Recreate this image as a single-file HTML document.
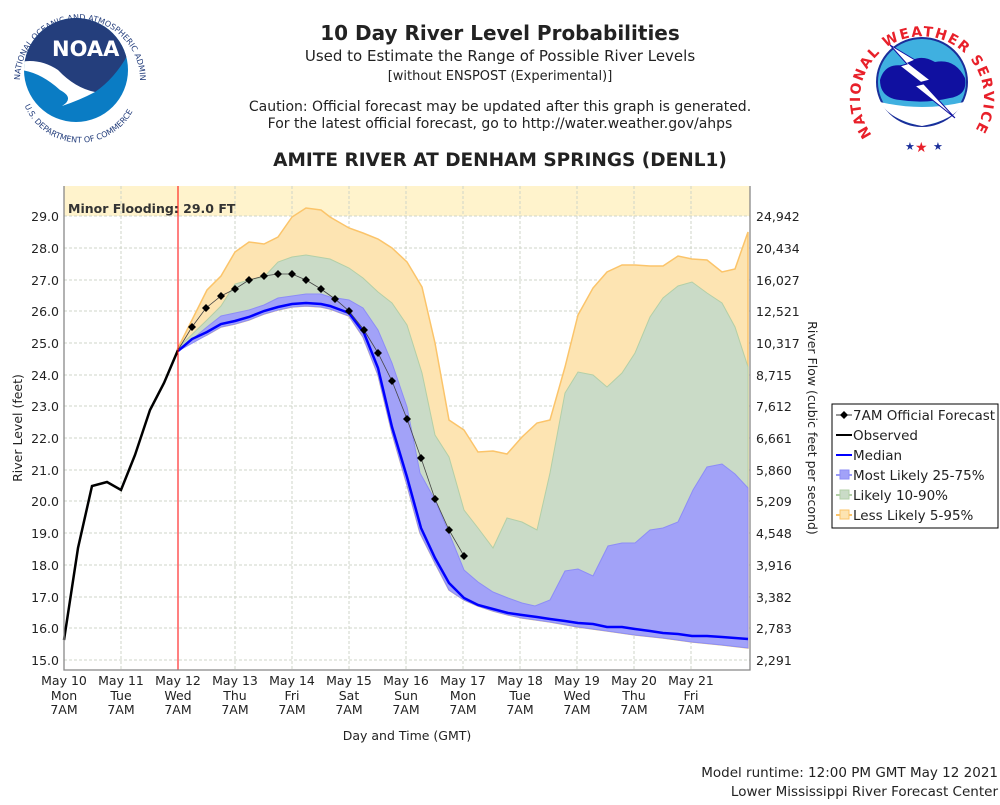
<!DOCTYPE html>
<html><head><meta charset="utf-8"><style>
body{margin:0;background:#fff;}
svg text{font-family:"DejaVu Sans","Liberation Sans",sans-serif;}
</style></head><body>
<svg width="1000" height="800" xmlns="http://www.w3.org/2000/svg">
<rect width="1000" height="800" fill="#fff"/>
<defs>
<path id="noaaRing" d="M 20,80 A 60,60 0 0 1 140,80"/>
<path id="noaaRing2" d="M 22,98 A 60,60 0 0 0 138,98"/>
<path id="nwsRing" d="M 872,135 A 62,62 0 1 1 972,135"/>
<clipPath id="nc"><circle cx="76" cy="70" r="52"/></clipPath>
</defs>
<g clip-path="url(#nc)">
<rect x="20" y="15" width="115" height="110" fill="#0a7cc4"/>
<path d="M20,15 H135 V40 Q120,75 95,92 Q70,90 55,72 Q40,60 20,62 Z" fill="#243e7c"/>
<path d="M20,62 Q40,58 58,70 Q75,88 95,92 Q80,100 62,106 Q75,98 60,90 Q40,72 20,70 Z" fill="#fff"/>
</g>
<text x="52" y="56" font-size="21" font-weight="bold" fill="#fff" font-family="Liberation Sans,sans-serif">NOAA</text>
<text font-size="8" fill="#243e7c"><textPath href="#noaaRing">NATIONAL OCEANIC AND ATMOSPHERIC ADMINISTRATION</textPath></text>
<text font-size="8" fill="#243e7c"><textPath href="#noaaRing2" startOffset="8">U.S. DEPARTMENT OF COMMERCE</textPath></text>
<ellipse cx="922" cy="82" rx="45" ry="44" fill="#3fb0e0" stroke="#1a2e9a" stroke-width="2"/>
<path d="M880,80 Q885,62 905,66 Q918,52 935,62 Q955,58 965,78 Q968,95 950,98 Q925,104 900,100 Q880,98 880,80Z" fill="#1010a0"/>
<path d="M880,102 Q922,112 964,102 Q955,120 922,126 Q890,120 880,102Z" fill="#fff"/>
<path d="M890,45 L915,60 L908,63 L930,80 L922,82 L955,118 L915,86 L923,84 L900,66 L907,64 Z" fill="#fff" stroke="#1010a0" stroke-width="1"/>
<text font-size="14" font-weight="bold" fill="#e8202a" font-family="Liberation Sans,sans-serif" letter-spacing="1.5"><textPath href="#nwsRing">NATIONAL WEATHER SERVICE</textPath></text>
<text x="905" y="150" font-size="11" fill="#1a2e9a">★</text>
<text x="915" y="152" font-size="14" fill="#e8202a">★</text>
<text x="933" y="150" font-size="11" fill="#1a2e9a">★</text>
<text x="500" y="40" font-size="20" font-weight="bold" text-anchor="middle" fill="#222">10 Day River Level Probabilities</text>
<text x="500" y="61" font-size="15" text-anchor="middle" fill="#222">Used to Estimate the Range of Possible River Levels</text>
<text x="500" y="80" font-size="13" text-anchor="middle" fill="#222">[without ENSPOST (Experimental)]</text>
<text x="500" y="111" font-size="14" text-anchor="middle" fill="#222">Caution: Official forecast may be updated after this graph is generated.</text>
<text x="500" y="128" font-size="14" text-anchor="middle" fill="#222">For the latest official forecast, go to http://water.weather.gov/ahps</text>
<text x="500" y="166" font-size="18.5" font-weight="bold" text-anchor="middle" fill="#222">AMITE RIVER AT DENHAM SPRINGS (DENL1)</text>
<rect x="64" y="186" width="686" height="484" fill="#fff"/>
<rect x="64" y="186" width="686" height="30" fill="#fff3cc"/>
<g stroke="#cfd5c8" stroke-dasharray="3,2" stroke-width="1">
<line x1="64" x2="750" y1="216" y2="216"/><line x1="64" x2="750" y1="248" y2="248"/><line x1="64" x2="750" y1="280" y2="280"/><line x1="64" x2="750" y1="311" y2="311"/><line x1="64" x2="750" y1="343" y2="343"/><line x1="64" x2="750" y1="375" y2="375"/><line x1="64" x2="750" y1="406" y2="406"/><line x1="64" x2="750" y1="438" y2="438"/><line x1="64" x2="750" y1="470" y2="470"/><line x1="64" x2="750" y1="501" y2="501"/><line x1="64" x2="750" y1="533" y2="533"/><line x1="64" x2="750" y1="565" y2="565"/><line x1="64" x2="750" y1="597" y2="597"/><line x1="64" x2="750" y1="628" y2="628"/><line x1="64" x2="750" y1="660" y2="660"/>
<line y1="186" y2="670" x1="121" x2="121"/><line y1="186" y2="670" x1="235" x2="235"/><line y1="186" y2="670" x1="292" x2="292"/><line y1="186" y2="670" x1="349" x2="349"/><line y1="186" y2="670" x1="406" x2="406"/><line y1="186" y2="670" x1="463" x2="463"/><line y1="186" y2="670" x1="520" x2="520"/><line y1="186" y2="670" x1="577" x2="577"/><line y1="186" y2="670" x1="634" x2="634"/><line y1="186" y2="670" x1="691" x2="691"/>
</g>
<polygon fill="#fde4b2" stroke="#fbc46a" stroke-width="1.5" points="178,348 207,290 221,276 235,252 249,242 264,244 278,237 292,217 306,208 321,210 330,217 349,228 363,233 378,239 392,248 407,262 422,287 435,343 449,420 464,430 478,452 493,451 507,454 522,437 537,423 550,420 565,367 578,315 593,288 607,272 622,265 635,265 650,266 663,266 678,256 692,259 707,260 722,272 735,269 748,232 748,648 722,645 692,642 663,638 635,635 607,631 578,627 550,622 522,618 508,615 493,611 478,606 464,600 449,590 435,563 420,533 407,485 392,433 378,375 363,337 349,316 330,309 321,307 306,306 292,307 278,310 264,314 249,320 235,324 221,327 207,335"/>
<polygon fill="#cadbc7" stroke="#b3cfa7" stroke-width="1" points="178,348 207,320 221,306 235,284 249,280 264,277 278,262 292,257 306,255 330,259 349,268 363,278 378,292 392,303 407,325 422,373 435,435 449,457 464,510 478,528 493,548 507,518 522,522 537,530 550,473 565,393 578,372 593,375 607,387 622,373 635,353 650,317 663,298 678,286 692,282 707,293 722,303 735,327 748,367 748,648 722,645 692,642 663,638 635,635 607,631 578,627 550,622 522,618 508,615 493,611 478,606 464,600 449,590 435,563 420,533 407,485 392,433 378,375 363,337 349,316 330,309 321,307 306,306 292,307 278,310 264,314 249,320 235,324 221,327 207,335"/>
<polygon fill="#a2a2f8" stroke="#8d8df6" stroke-width="1" points="178,351 207,327 221,316 235,313 249,310 264,305 278,298 292,296 306,294 321,294 330,297 349,300 363,308 378,330 392,363 407,407 420,473 435,500 449,533 464,570 478,582 493,592 508,598 522,603 535,606 550,600 565,571 578,569 593,576 608,546 622,543 635,543 650,530 663,528 678,522 693,490 707,467 722,464 735,474 748,488 748,648 722,645 692,642 663,638 635,635 607,631 578,627 550,622 522,618 508,615 493,611 478,606 464,600 449,590 435,563 420,533 407,485 392,433 378,375 363,337 349,316 330,309 321,307 306,306 292,307 278,310 264,314 249,320 235,324 221,327 207,335"/>
<polyline fill="none" stroke="#0000ff" stroke-width="2.5" points="178,351 192,339 207,332 221,324 235,321 249,317 264,311 278,307 292,304 306,303 321,304 330,306 349,313 364,333 378,368 392,427 407,477 421,528 435,558 449,583 464,598 478,605 493,609 508,613 522,615 537,617 550,619 565,621 578,623 593,624 607,627 622,627 635,629 650,631 663,633 678,634 692,636 707,636 722,637 748,639"/>
<polyline fill="none" stroke="#000" stroke-width="2.5" points="64,640 78,548 92,486 107,482 121,490 135,455 150,410 164,383 178,350"/>
<polyline fill="none" stroke="#444" stroke-width="0.8" points="178,350 192,327 206,308 221,296 235,289 249,280 264,276 278,274 292,274 306,280 321,289 335,299 349,311 364,330 378,353 392,381 407,419 421,458 435,499 449,530 464,556"/>
<g fill="#000">
<path d="M192,323l4,4l-4,4l-4,-4z"/><path d="M206,304l4,4l-4,4l-4,-4z"/><path d="M221,292l4,4l-4,4l-4,-4z"/><path d="M235,285l4,4l-4,4l-4,-4z"/><path d="M249,276l4,4l-4,4l-4,-4z"/><path d="M264,272l4,4l-4,4l-4,-4z"/><path d="M278,270l4,4l-4,4l-4,-4z"/><path d="M292,270l4,4l-4,4l-4,-4z"/><path d="M306,276l4,4l-4,4l-4,-4z"/><path d="M321,285l4,4l-4,4l-4,-4z"/><path d="M335,295l4,4l-4,4l-4,-4z"/><path d="M349,307l4,4l-4,4l-4,-4z"/><path d="M364,326l4,4l-4,4l-4,-4z"/><path d="M378,349l4,4l-4,4l-4,-4z"/><path d="M392,377l4,4l-4,4l-4,-4z"/><path d="M407,415l4,4l-4,4l-4,-4z"/><path d="M421,454l4,4l-4,4l-4,-4z"/><path d="M435,495l4,4l-4,4l-4,-4z"/><path d="M449,526l4,4l-4,4l-4,-4z"/><path d="M464,552l4,4l-4,4l-4,-4z"/>
</g>
<line x1="178" x2="178" y1="186" y2="670" stroke="#ff0000" stroke-width="1"/>
<text x="68" y="213" font-size="12.5" font-weight="bold" fill="#333">Minor Flooding: 29.0 FT</text>
<g stroke="#888" stroke-width="1.3" fill="none">
<polyline points="64,186 64,670 750,670 750,186"/>
</g>
<g font-size="12.5" fill="#222" text-anchor="end">
<text x="59" y="221">29.0</text><text x="59" y="253">28.0</text><text x="59" y="285">27.0</text><text x="59" y="316">26.0</text><text x="59" y="348">25.0</text><text x="59" y="380">24.0</text><text x="59" y="411">23.0</text><text x="59" y="443">22.0</text><text x="59" y="475">21.0</text><text x="59" y="506">20.0</text><text x="59" y="538">19.0</text><text x="59" y="570">18.0</text><text x="59" y="602">17.0</text><text x="59" y="633">16.0</text><text x="59" y="665">15.0</text>
</g>
<g font-size="12.5" fill="#222">
<text x="756" y="221">24,942</text><text x="756" y="253">20,434</text><text x="756" y="285">16,027</text><text x="756" y="316">12,521</text><text x="756" y="348">10,317</text><text x="756" y="380">8,715</text><text x="756" y="411">7,612</text><text x="756" y="443">6,661</text><text x="756" y="475">5,860</text><text x="756" y="506">5,209</text><text x="756" y="538">4,548</text><text x="756" y="570">3,916</text><text x="756" y="602">3,382</text><text x="756" y="633">2,783</text><text x="756" y="665">2,291</text>
</g>
<g font-size="12.5" fill="#222" text-anchor="middle">
<text x="64" y="685">May 10</text><text x="64" y="700">Mon</text><text x="64" y="714">7AM</text>
<text x="121" y="685">May 11</text><text x="121" y="700">Tue</text><text x="121" y="714">7AM</text>
<text x="178" y="685">May 12</text><text x="178" y="700">Wed</text><text x="178" y="714">7AM</text>
<text x="235" y="685">May 13</text><text x="235" y="700">Thu</text><text x="235" y="714">7AM</text>
<text x="292" y="685">May 14</text><text x="292" y="700">Fri</text><text x="292" y="714">7AM</text>
<text x="349" y="685">May 15</text><text x="349" y="700">Sat</text><text x="349" y="714">7AM</text>
<text x="406" y="685">May 16</text><text x="406" y="700">Sun</text><text x="406" y="714">7AM</text>
<text x="463" y="685">May 17</text><text x="463" y="700">Mon</text><text x="463" y="714">7AM</text>
<text x="520" y="685">May 18</text><text x="520" y="700">Tue</text><text x="520" y="714">7AM</text>
<text x="577" y="685">May 19</text><text x="577" y="700">Wed</text><text x="577" y="714">7AM</text>
<text x="634" y="685">May 20</text><text x="634" y="700">Thu</text><text x="634" y="714">7AM</text>
<text x="691" y="685">May 21</text><text x="691" y="700">Fri</text><text x="691" y="714">7AM</text>
<text x="407" y="740">Day and Time (GMT)</text>
</g>
<text transform="translate(22,428) rotate(-90)" font-size="12.5" fill="#222" text-anchor="middle">River Level (feet)</text>
<text transform="translate(808,428) rotate(90)" font-size="12.5" fill="#222" text-anchor="middle">River Flow (cubic feet per second)</text>
<rect x="832" y="404" width="166" height="124" fill="#fff" stroke="#000" stroke-width="1"/>
<g font-size="13.5" fill="#222">
<line x1="836" x2="852" y1="415" y2="415" stroke="#333"/><path d="M844,411l4,4l-4,4l-4,-4z" fill="#000"/><text x="853" y="420">7AM Official Forecast</text>
<line x1="836" x2="852" y1="435" y2="435" stroke="#000" stroke-width="2"/><text x="853" y="440">Observed</text>
<line x1="836" x2="852" y1="455" y2="455" stroke="#00f" stroke-width="2"/><text x="853" y="460">Median</text>
<line x1="836" x2="852" y1="475" y2="475" stroke="#9a9af8" stroke-width="2"/><rect x="840" y="470" width="9" height="9" fill="#a2a2f8" stroke="#8d8df6"/><text x="853" y="480">Most Likely 25-75%</text>
<line x1="836" x2="852" y1="495" y2="495" stroke="#b3cfa7" stroke-width="2"/><rect x="840" y="490" width="9" height="9" fill="#cadbc7" stroke="#b3cfa7"/><text x="853" y="500">Likely 10-90%</text>
<line x1="836" x2="852" y1="515" y2="515" stroke="#fbc46a" stroke-width="2"/><rect x="840" y="510" width="9" height="9" fill="#fde4b2" stroke="#fbc46a"/><text x="853" y="520">Less Likely 5-95%</text>
</g>
<g font-size="13.5" fill="#222" text-anchor="end">
<text x="998" y="777">Model runtime: 12:00 PM GMT May 12 2021</text>
<text x="998" y="796">Lower Mississippi River Forecast Center</text>
</g>
</svg>
</body></html>
